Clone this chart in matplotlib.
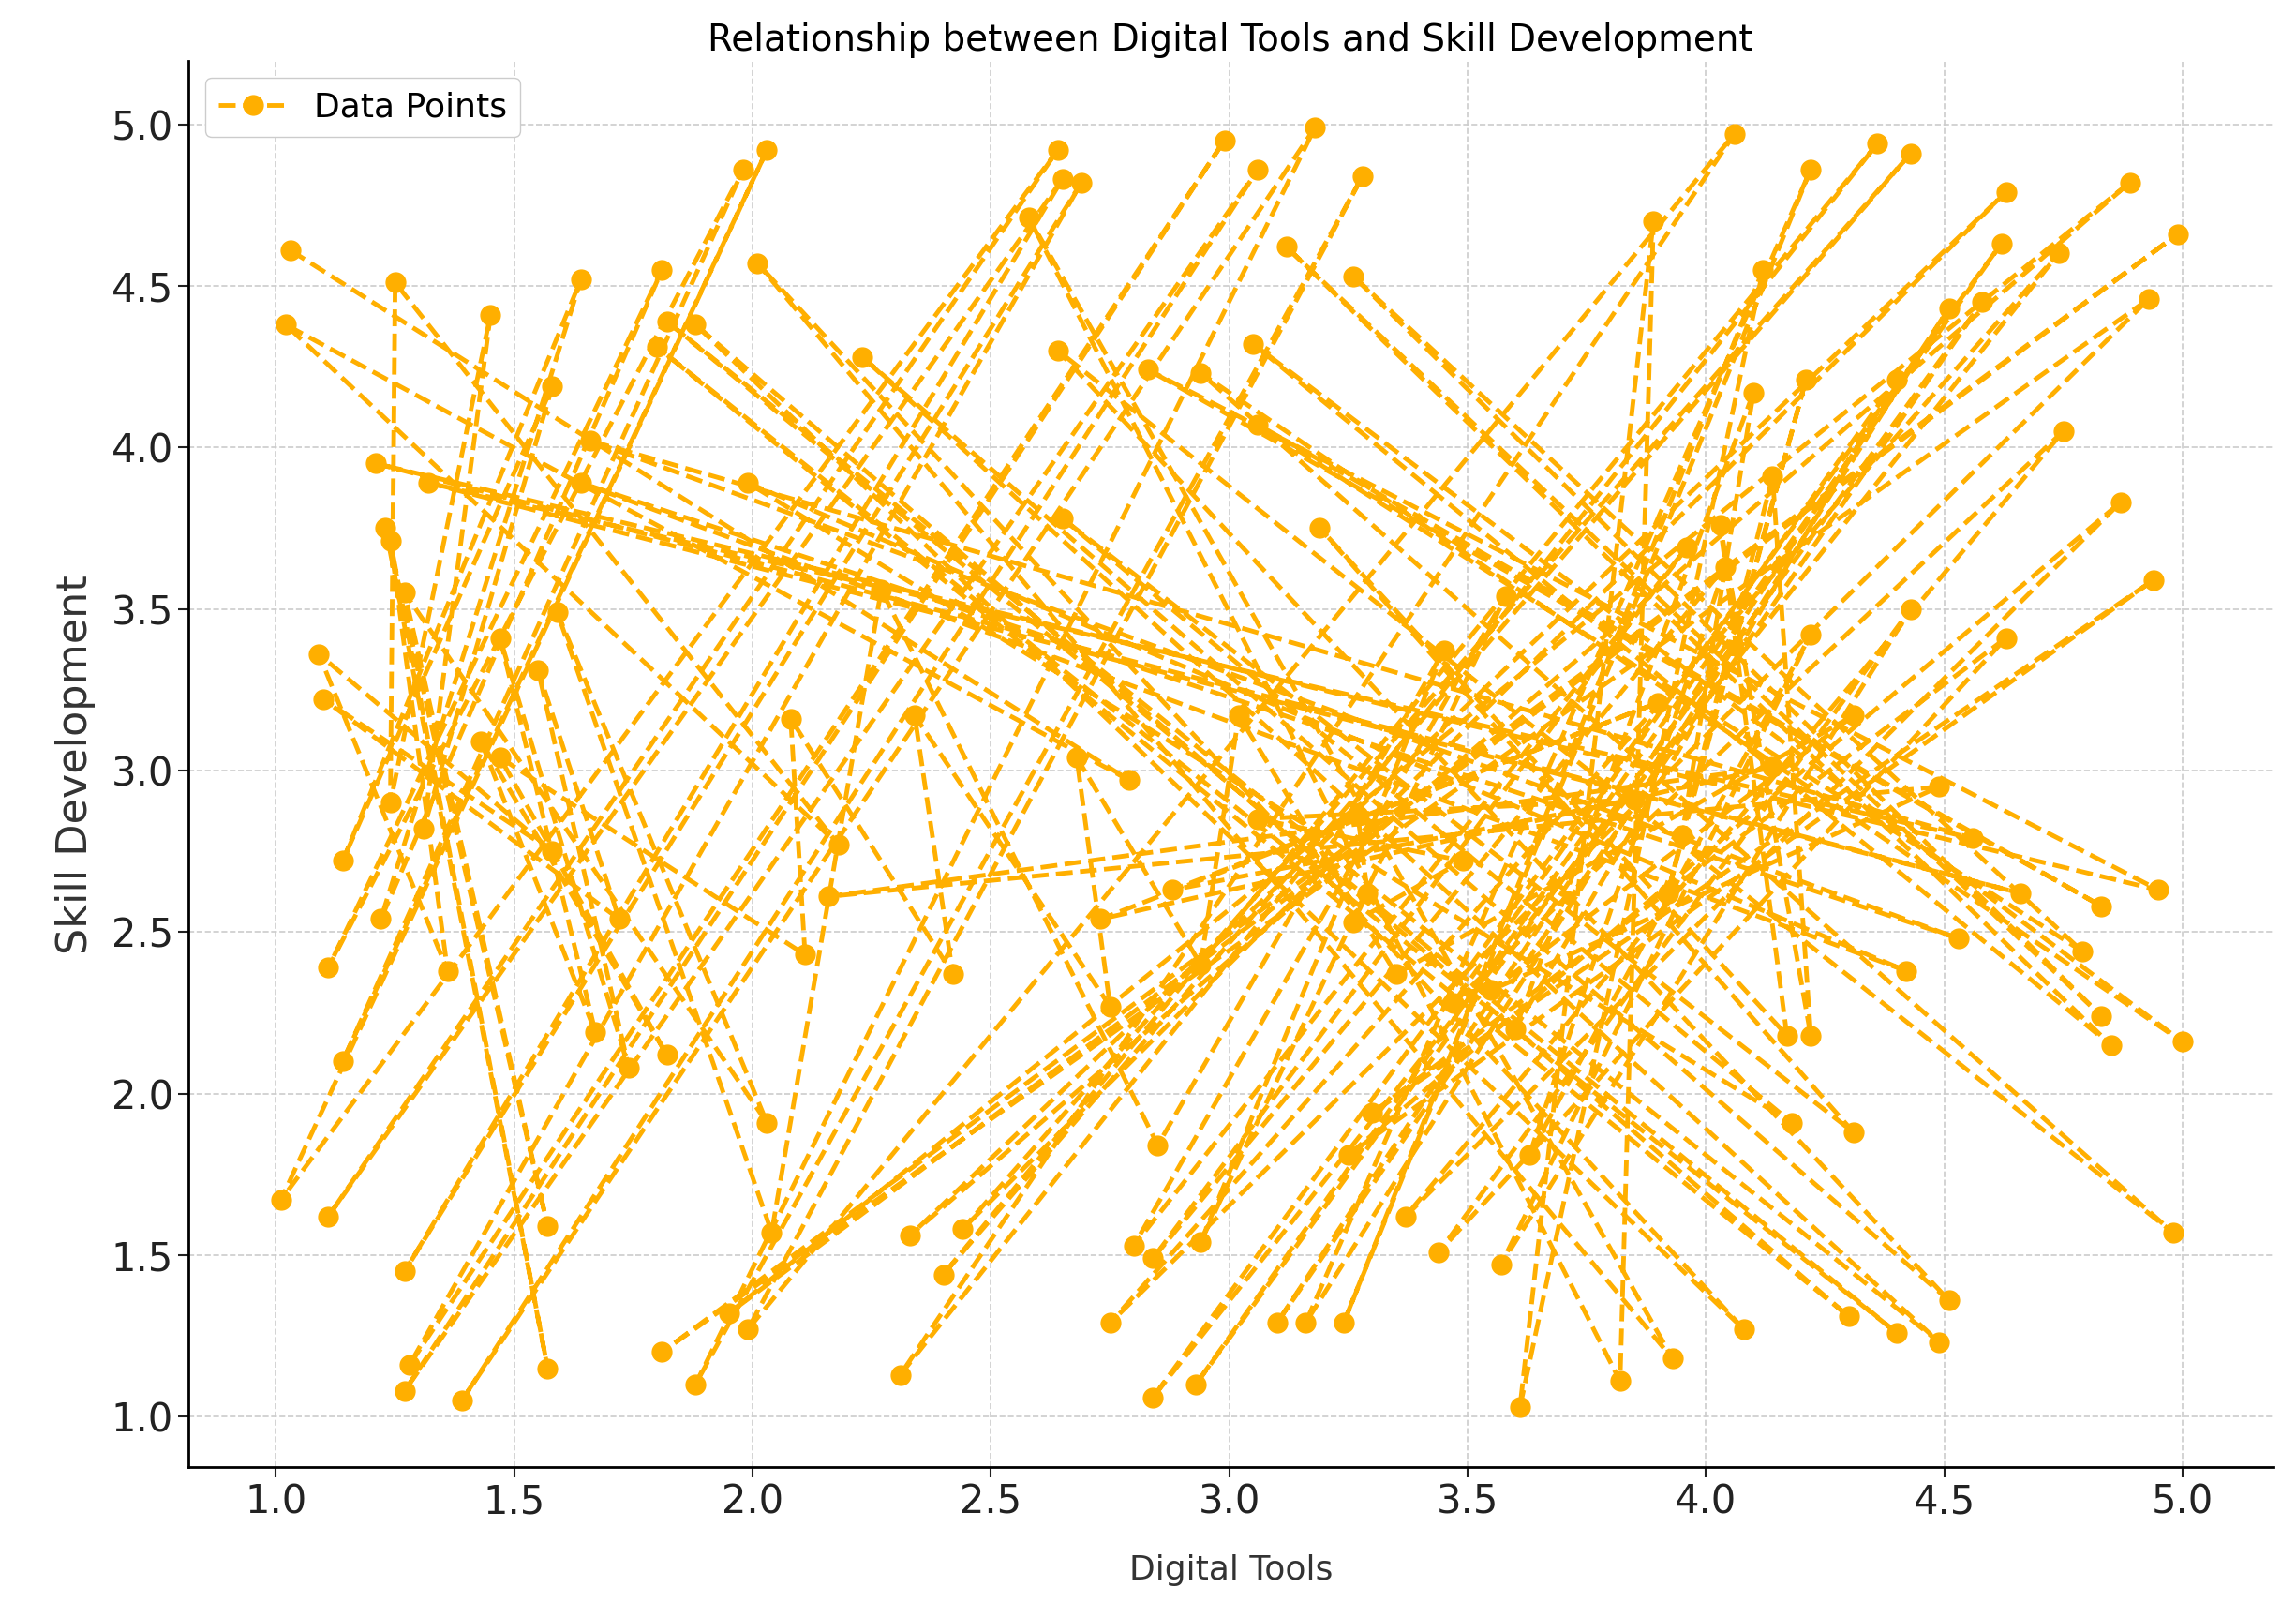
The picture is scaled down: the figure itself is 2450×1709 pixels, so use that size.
import matplotlib
matplotlib.use("Agg")
import matplotlib.pyplot as plt

digital_tools = [1.03,1.02,1.25,1.45,1.58,1.64,1.81,1.98,2.03,2.64,2.65,2.69,2.99,3.06,3.18,3.28,4.06,4.36,4.43,4.63,4.89,4.99,4.93,4.74,4.62,4.58,4.51,4.22,4.12,3.89,2.58,2.01,1.88,1.80,1.82,2.23,2.64,2.94,3.05,3.12,3.26,3.06,2.83,1.21,1.32,1.66,1.64,1.99,2.65,3.19,4.03,4.14,4.21,4.10,4.40,4.75,4.87,4.94,4.63,4.43,4.22,4.04,3.96,3.58,3.45,2.27,1.59,1.27,1.23,1.24,1.09,1.10,1.55,1.47,1.43,1.47,2.08,2.34,2.68,3.02,4.31,4.49,4.14,3.90,3.85,3.49,3.29,2.79,2.18,1.24,1.31,1.14,1.22,1.11,1.14,1.01,1.11,1.27,1.28,1.27,1.39,1.88,1.99,2.31,2.40,2.44,2.33,1.95,1.81,2.75,2.84,2.93,3.10,3.16,3.24,3.61,3.82,3.93,4.08,4.30,4.40,4.49,4.51,4.98,5.00,4.85,4.83,4.79,4.83,4.95,4.66,4.56,4.53,4.42,4.18,4.31,4.17,4.22,3.92,3.95,3.60,3.47,3.37,3.25,3.30,3.44,3.57,3.63,2.84,2.80,2.94,2.85,2.04,2.03,1.57,1.57,1.36,1.58,1.72,1.74,1.67,1.82,2.11,2.42,2.75,2.94,3.35,3.55,2.16,2.73,2.88,3.06,3.26,3.27]
skill_development = [4.61,4.38,4.51,4.41,4.19,4.52,4.55,4.86,4.92,4.92,4.83,4.82,4.95,4.86,4.99,4.84,4.97,4.94,4.91,4.79,4.82,4.66,4.46,4.60,4.63,4.45,4.43,4.86,4.55,4.70,4.71,4.57,4.38,4.31,4.39,4.28,4.30,4.23,4.32,4.62,4.53,4.07,4.24,3.95,3.89,4.02,3.89,3.89,3.78,3.75,3.76,3.91,4.21,4.17,4.21,4.05,3.83,3.59,3.41,3.50,3.42,3.63,3.69,3.54,3.37,3.56,3.49,3.55,3.75,3.71,3.36,3.22,3.31,3.41,3.09,3.04,3.16,3.17,3.04,3.17,3.17,2.95,3.01,3.21,2.91,2.72,2.62,2.97,2.77,2.90,2.82,2.72,2.54,2.39,2.10,1.67,1.62,1.45,1.16,1.08,1.05,1.10,1.27,1.13,1.44,1.58,1.56,1.32,1.20,1.29,1.06,1.10,1.29,1.29,1.29,1.03,1.11,1.18,1.27,1.31,1.26,1.23,1.36,1.57,2.16,2.15,2.24,2.44,2.58,2.63,2.62,2.79,2.48,2.38,1.91,1.88,2.18,2.18,2.62,2.80,2.20,2.28,1.62,1.81,1.94,1.51,1.47,1.81,1.49,1.53,1.54,1.84,1.57,1.91,1.59,1.15,2.38,2.75,2.54,2.08,2.19,2.12,2.43,2.37,2.27,2.40,2.37,2.32,2.61,2.54,2.63,2.85,2.53,2.86]
x_ticks = [1.0,1.5,2.0,2.5,3.0,3.5,4.0,4.5,5.0]
y_ticks = [1.0,1.5,2.0,2.5,3.0,3.5,4.0,4.5,5.0]

# drawing order: alternate between the two halves of the point list
n = len(digital_tools)
h = n // 2
order = [j for pair in zip(range(0, h), range(h, 2 * h)) for j in pair] + list(range(2 * h, n))
xs = [digital_tools[j] for j in order]
ys = [skill_development[j] for j in order]

fig = plt.figure(figsize=(24.5,17.09), dpi=100)
ax = fig.add_axes([0.082,0.084,0.908,0.878])
ax.plot(xs, ys, color='#FFAF00', linestyle='--', linewidth=3.5,
        marker='o', markersize=15, label='Data Points')
ax.set_xlim(0.816,5.19)
ax.set_ylim(0.843,5.196)
ax.set_xticks(x_ticks)
ax.set_yticks(y_ticks)
ax.set_xticklabels([f"{t:.1f}" for t in x_ticks])
ax.set_yticklabels([f"{t:.1f}" for t in y_ticks])
ax.tick_params(labelsize=30, length=8, width=1.5, colors='#222222')
ax.grid(True, linestyle='--', color='#cccccc', linewidth=1.2)
for s in ['top','right']:
    ax.spines[s].set_visible(False)
for s in ['left','bottom']:
    ax.spines[s].set_linewidth(2)
ax.set_ylabel('Skill Development', fontsize=32, color='#333333', labelpad=12)
ax.set_xlabel('Digital Tools', fontsize=26, color='#333333')
ax.xaxis.set_label_coords(0.5, -0.062)
ax.set_title('Relationship between Digital Tools and Skill Development', fontsize=28, pad=8)
ax.legend(loc='upper left', fontsize=26, framealpha=1, edgecolor='#cccccc')
fig.savefig('out.png', dpi=100)
